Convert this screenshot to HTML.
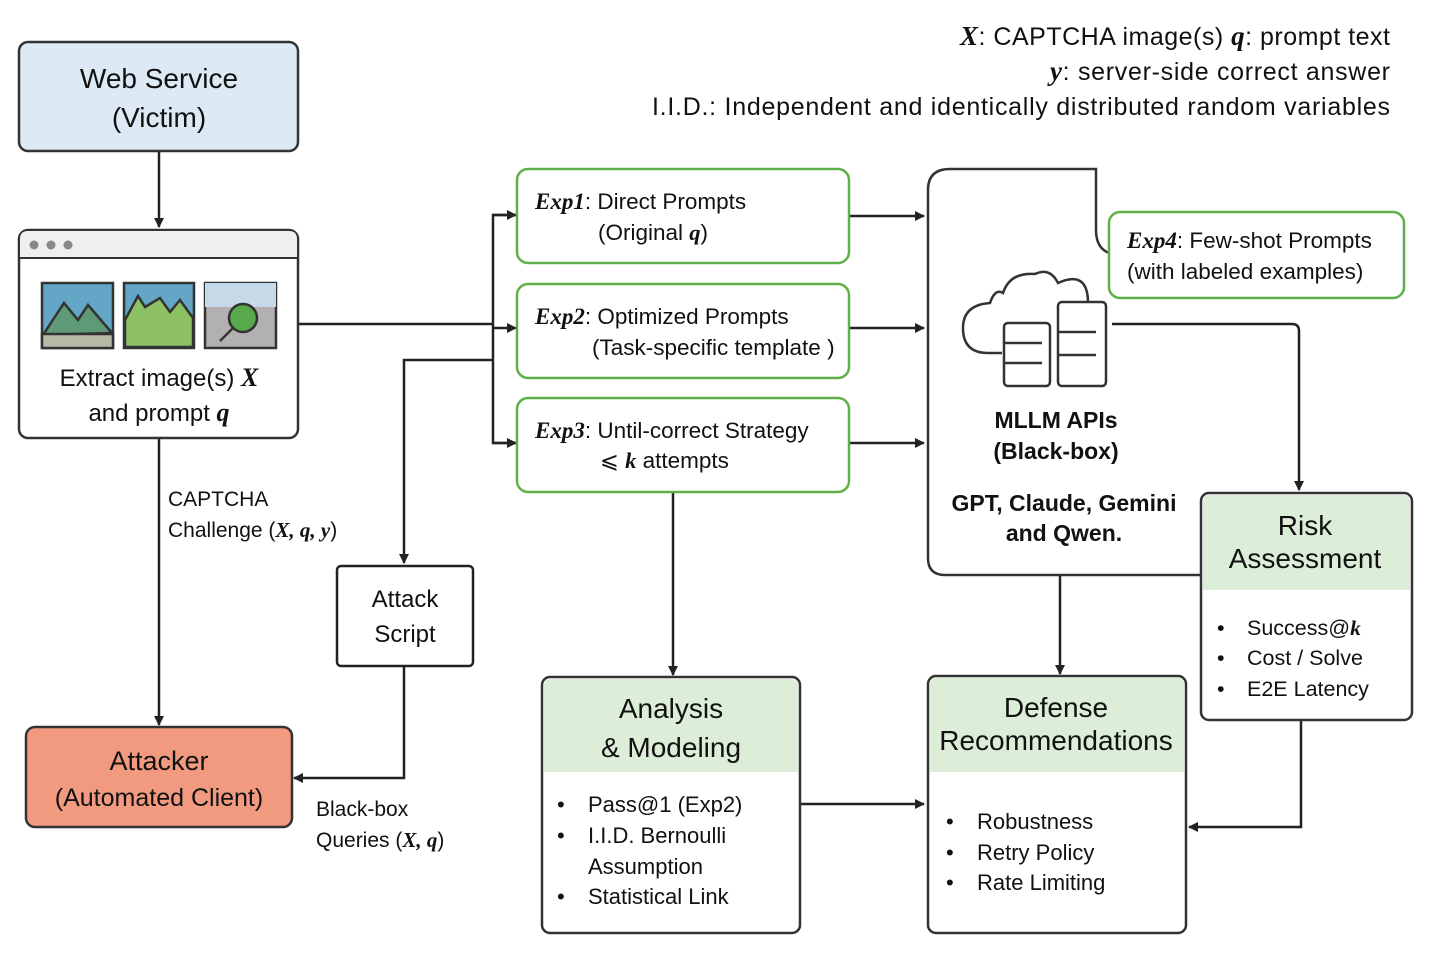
<!DOCTYPE html>
<html><head><meta charset="utf-8"><style>
body{margin:0;background:#fff}
svg{display:block}
text{font-family:"Liberation Sans",sans-serif;fill:#111}
.m{font-family:"Liberation Serif",serif;font-style:italic;font-weight:bold}
</style></head><body>
<svg width="1435" height="956" viewBox="0 0 1435 956" xmlns="http://www.w3.org/2000/svg">
<defs>
<marker id="a" markerWidth="10" markerHeight="10" refX="9" refY="5" orient="auto" markerUnits="userSpaceOnUse"><path d="M0,0 L10,5 L0,10 z" fill="#222"/></marker>
</defs>
<g stroke="#222" stroke-width="2.5" fill="none">
<line x1="159" y1="151" x2="159" y2="227" marker-end="url(#a)"/>
<line x1="298" y1="324" x2="493" y2="324"/>
<path d="M517,215 H493 V443 H516" />
<line x1="493" y1="215" x2="516" y2="215" marker-end="url(#a)"/>
<line x1="493" y1="328" x2="516" y2="328" marker-end="url(#a)"/>
<line x1="493" y1="443" x2="516" y2="443" marker-end="url(#a)"/>
<path d="M493,360 H404 V563" marker-end="url(#a)"/>
<path d="M404,666 V778 H294" marker-end="url(#a)"/>
<line x1="159" y1="438" x2="159" y2="725" marker-end="url(#a)"/>
<line x1="849" y1="216" x2="924" y2="216" marker-end="url(#a)"/>
<line x1="849" y1="328" x2="924" y2="328" marker-end="url(#a)"/>
<line x1="849" y1="443" x2="924" y2="443" marker-end="url(#a)"/>
<line x1="673" y1="492" x2="673" y2="675" marker-end="url(#a)"/>
<path d="M1112,324 H1292 Q1299,324 1299,331 V490" marker-end="url(#a)"/>
<line x1="1060" y1="575" x2="1060" y2="674" marker-end="url(#a)"/>
<line x1="800" y1="804" x2="924" y2="804" marker-end="url(#a)"/>
<path d="M1301,720 V827 H1189" marker-end="url(#a)"/>
<path d="M1200,575 H945 Q928,575 928,558 V190 Q928,169 950,169 H1096 V230 Q1096,248 1109,253" stroke="#333"/>
</g>
<rect x="19" y="42" width="279" height="109" rx="9" fill="#dde9f5" stroke="#333" stroke-width="2.5"/>
<text x="159" y="88" font-size="28" text-anchor="middle">Web Service</text>
<text x="159" y="127" font-size="28" text-anchor="middle">(Victim)</text>
<rect x="19" y="230" width="279" height="208" rx="9" fill="#fff" stroke="#333" stroke-width="2.5"/>
<path d="M20,257 V239 Q20,231 28,231 H289 Q297,231 297,239 V257 z" fill="#efefef"/>
<line x1="19" y1="258" x2="298" y2="258" stroke="#333" stroke-width="2"/>
<circle cx="34" cy="245" r="4.5" fill="#888"/><circle cx="51" cy="245" r="4.5" fill="#888"/><circle cx="68" cy="245" r="4.5" fill="#888"/>
<g stroke="#333" stroke-width="2.5">
<rect x="42" y="283" width="71" height="65" fill="#63a6c6"/>
<path d="M43,335 L64,303 L78,320 L88,305 L112,333 z" fill="#5f9a78"/>
<rect x="42" y="334" width="71" height="14" fill="#b5b9a6"/>
<rect x="124" y="283" width="70" height="65" fill="#63a6c6"/>
<path d="M125,320 L138,296 L145,307 L160,298 L170,312 L180,300 L193,318 V347 H125 z" fill="#8cc063"/>
<rect x="205" y="283" width="71" height="65" fill="#b3b0b1"/>
<rect x="205" y="283" width="71" height="24" fill="#c6d9e8" stroke="none"/>
<circle cx="243" cy="318" r="14" fill="#58a94c"/>
<line x1="233" y1="328" x2="220" y2="341"/>
</g>
<text x="159" y="386" font-size="24" text-anchor="middle">Extract image(s) <tspan class="m" font-size="26">X</tspan></text>
<text x="159" y="421" font-size="24" text-anchor="middle">and prompt <tspan class="m" font-size="26">q</tspan></text>
<text x="168" y="506" font-size="21">CAPTCHA</text>
<text x="168" y="537" font-size="21">Challenge (<tspan class="m">X, q, y</tspan>)</text>
<text x="316" y="816" font-size="21">Black-box</text>
<text x="316" y="847" font-size="21">Queries (<tspan class="m">X, q</tspan>)</text>
<rect x="337" y="566" width="136" height="100" rx="4" fill="#fff" stroke="#222" stroke-width="2.5"/>
<text x="405" y="607" font-size="24" text-anchor="middle">Attack</text>
<text x="405" y="642" font-size="24" text-anchor="middle">Script</text>
<rect x="26" y="727" width="266" height="100" rx="9" fill="#f19a80" stroke="#333" stroke-width="2.5"/>
<text x="159" y="770" font-size="27" text-anchor="middle">Attacker</text>
<text x="159" y="806" font-size="25" text-anchor="middle">(Automated Client)</text>
<g fill="#fff" stroke="#5fb04a" stroke-width="2.5">
<rect x="517" y="169" width="332" height="94" rx="11"/>
<rect x="517" y="284" width="332" height="94" rx="11"/>
<rect x="517" y="398" width="332" height="94" rx="11"/>
<rect x="1109" y="212" width="295" height="86" rx="11"/>
</g>
<text x="535" y="209" font-size="22.5"><tspan class="m" font-size="23">Exp1</tspan>: Direct Prompts</text>
<text x="598" y="240" font-size="22.5">(Original <tspan class="m">q</tspan>)</text>
<text x="535" y="324" font-size="22.5"><tspan class="m" font-size="23">Exp2</tspan>: Optimized Prompts</text>
<text x="592" y="355" font-size="22.5">(Task-specific template )</text>
<text x="535" y="438" font-size="22.5"><tspan class="m" font-size="23">Exp3</tspan>: Until-correct Strategy</text>
<text x="600" y="468" font-size="22.5">⩽ <tspan class="m">k</tspan> attempts</text>
<text x="1127" y="248" font-size="22.5"><tspan class="m" font-size="23">Exp4</tspan>: Few-shot Prompts</text>
<text x="1127" y="279" font-size="22.5">(with labeled examples)</text>
<g stroke="#333" stroke-width="2.5" fill="#fff">
<path d="M1002,353 H988 Q963,353 963,328 Q963,305 990,303 Q995,288 1003,293 Q1010,272 1035,274 Q1050,267 1058,283 Q1087,270 1088,301"/>
<rect x="1004" y="323" width="46" height="63" rx="4"/>
<rect x="1058" y="302" width="48" height="84" rx="4"/>
<line x1="1004" y1="343" x2="1042" y2="343"/><line x1="1004" y1="363" x2="1042" y2="363"/>
<line x1="1058" y1="332" x2="1096" y2="332"/><line x1="1058" y1="355" x2="1096" y2="355"/>
</g>
<text x="1056" y="428" font-size="23" font-weight="bold" text-anchor="middle">MLLM APIs</text>
<text x="1056" y="459" font-size="23" font-weight="bold" text-anchor="middle">(Black-box)</text>
<text x="1064" y="511" font-size="23" font-weight="bold" text-anchor="middle">GPT, Claude, Gemini</text>
<text x="1064" y="541" font-size="23" font-weight="bold" text-anchor="middle">and Qwen.</text>
<rect x="1201" y="493" width="211" height="227" rx="8" fill="#fff" stroke="#333" stroke-width="2.5"/>
<path d="M1203,590 V502 Q1203,495 1210,495 H1403 Q1410,495 1410,502 V590 z" fill="#dcedd8"/>
<text x="1305" y="535" font-size="28" text-anchor="middle">Risk</text>
<text x="1305" y="568" font-size="28" text-anchor="middle">Assessment</text>
<g font-size="21.5"><text x="1217" y="635">•</text><text x="1247" y="635">Success@<tspan class="m">k</tspan></text>
<text x="1217" y="665">•</text><text x="1247" y="665">Cost / Solve</text>
<text x="1217" y="696">•</text><text x="1247" y="696">E2E Latency</text></g>
<rect x="542" y="677" width="258" height="256" rx="8" fill="#fff" stroke="#333" stroke-width="2.5"/>
<path d="M544,772 V686 Q544,679 551,679 H791 Q798,679 798,686 V772 z" fill="#dcedd8"/>
<text x="671" y="718" font-size="28" text-anchor="middle">Analysis</text>
<text x="671" y="757" font-size="28" text-anchor="middle">&amp; Modeling</text>
<g font-size="22"><text x="557" y="812">•</text><text x="588" y="812">Pass@1 (Exp2)</text>
<text x="557" y="843">•</text><text x="588" y="843">I.I.D. Bernoulli</text>
<text x="588" y="874">Assumption</text>
<text x="557" y="904">•</text><text x="588" y="904">Statistical Link</text></g>
<rect x="928" y="676" width="258" height="257" rx="8" fill="#fff" stroke="#333" stroke-width="2.5"/>
<path d="M930,772 V685 Q930,678 937,678 H1177 Q1184,678 1184,685 V772 z" fill="#dcedd8"/>
<text x="1056" y="717" font-size="28" text-anchor="middle">Defense</text>
<text x="1056" y="750" font-size="28" text-anchor="middle">Recommendations</text>
<g font-size="22"><text x="946" y="829">•</text><text x="977" y="829">Robustness</text>
<text x="946" y="860">•</text><text x="977" y="860">Retry Policy</text>
<text x="946" y="890">•</text><text x="977" y="890">Rate Limiting</text></g>
<g font-size="25">
<text x="960" y="45" textLength="430" lengthAdjust="spacing"><tspan class="m" font-size="27">X</tspan>: CAPTCHA image(s) <tspan class="m" font-size="27">q</tspan>: prompt text</text>
<text x="1050" y="80" textLength="340" lengthAdjust="spacing"><tspan class="m" font-size="27">y</tspan>: server-side correct answer</text>
<text x="652" y="115" textLength="738" lengthAdjust="spacing">I.I.D.: Independent and identically distributed random variables</text>
</g>
</svg>
</body></html>
